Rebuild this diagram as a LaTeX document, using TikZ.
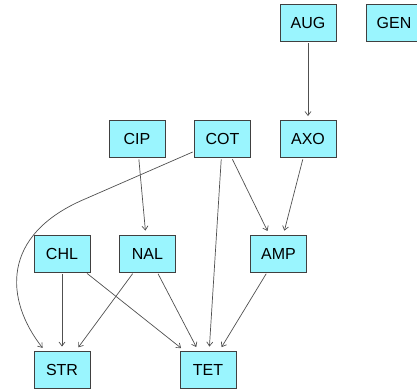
\documentclass[tikz,border=0pt]{standalone}
\usepackage{fontspec}
\setmainfont{Liberation Sans}
\usetikzlibrary{arrows.meta}
\definecolor{boxfill}{HTML}{9AF5FE}
\definecolor{boxline}{HTML}{404040}
\definecolor{edgecol}{HTML}{505050}
\begin{document}
\begin{tikzpicture}[x=1pt,y=-1pt,
  box/.style={draw=boxline,fill=boxfill,line width=0.9pt,minimum width=56pt,minimum height=37pt,inner sep=0pt,font=\fontsize{16}{18}\selectfont},
  edge/.style={draw=edgecol,line width=0.7pt,-{Straight Barb[length=4pt,width=6pt]},shorten >=4pt,shorten <=1.5pt}]
\useasboundingbox (0,0) rectangle (417,389);
\begin{scope}
\clip (0,0) rectangle (417,389);
\node[box] (AUG) at (308,23) {AUG};
\node[box] (GEN) at (394,23) {GEN};
\node[box] (CIP) at (137,139) {CIP};
\node[box] (COT) at (222.5,139) {COT};
\node[box] (AXO) at (308,139) {AXO};
\node[box] (CHL) at (62,253.5) {CHL};
\node[box] (NAL) at (147.5,253.5) {NAL};
\node[box] (AMP) at (278.5,253.5) {AMP};
\node[box] (STR) at (62,369.5) {STR};
\node[box] (TET) at (208,369.5) {TET};
\end{scope}
\coordinate (bend) at (85,199);
\coordinate (strin) at (45,351);
\draw[edge] (AUG) -- (AXO);
\draw[edge] (CIP) -- (NAL);
\draw[edge] (COT) -- (TET);
\draw[edge] (COT) -- (AMP);
\draw[edge] (AXO) -- (AMP);
\draw[edge] (CHL) -- (STR);
\draw[edge] (CHL) -- (TET);
\draw[edge] (NAL) -- (STR);
\draw[edge] (NAL) -- (TET);
\draw[edge] (AMP) -- (TET);
\draw[edge] (COT) -- (bend) .. controls (0,235) and (5,300) .. (strin);
\end{tikzpicture}
\end{document}
